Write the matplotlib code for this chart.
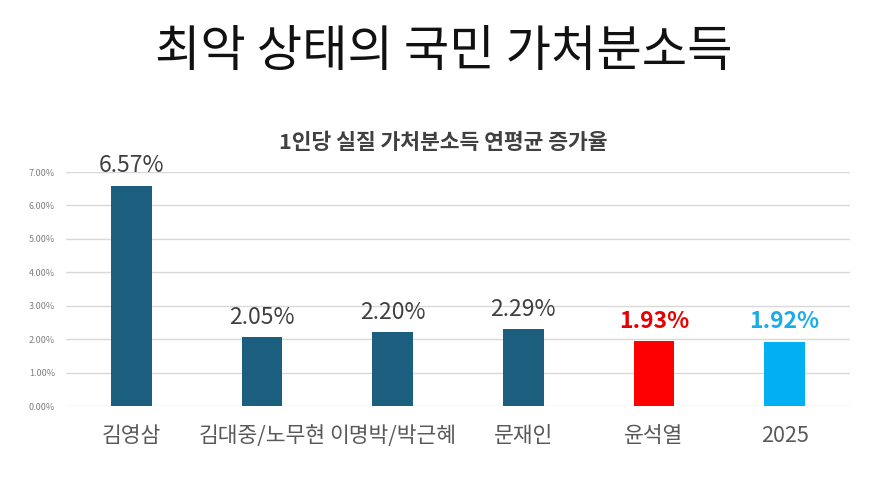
import matplotlib
matplotlib.use("Agg")
import matplotlib.pyplot as plt
from matplotlib.ticker import FuncFormatter

plt.rcParams['font.family'] = ['Noto Sans CJK KR', 'DejaVu Sans']

categories = ['김영삼', '김대중/노무현', '이명박/박근혜', '문재인', '윤석열', '2025']
values = [6.57, 2.05, 2.20, 2.29, 1.93, 1.92]
value_labels = ['6.57%', '2.05%', '2.20%', '2.29%', '1.93%', '1.92%']
yticks = [0, 1, 2, 3, 4, 5, 6, 7]

bar_colors = ['#1B5E7E', '#1B5E7E', '#1B5E7E', '#1B5E7E', '#FF0000', '#00B0F0']
label_colors = ['#404040', '#404040', '#404040', '#404040', '#E60000', '#1AACE8']
label_weights = ['normal', 'normal', 'normal', 'normal', 'bold', 'bold']

fig = plt.figure(figsize=(8.87, 4.96), dpi=100)
fig.patch.set_facecolor('white')
ax = fig.add_axes([66/887, 1-406/496, (850-66)/887, (406-172)/496])

x = list(range(len(categories)))
ax.bar(x, values, width=0.31, color=bar_colors, zorder=3)
ax.set_xlim(-0.5, len(categories)-0.5)
ax.set_ylim(0, 7)
ax.set_yticks(yticks)
ax.yaxis.set_major_formatter(FuncFormatter(lambda v, p: f'{v:.2f}%'))
ax.set_xticks(x)
ax.set_xticklabels(categories)
ax.grid(axis='y', color='#D9D9D9', linewidth=1, zorder=0)
for s in ax.spines.values():
    s.set_visible(False)
ax.tick_params(axis='x', length=0, pad=14, labelsize=15.5, labelcolor='#595959')
ax.tick_params(axis='y', length=0, pad=8, labelsize=6.5, labelcolor='#7F7F7F')

for xi, v, t, c, w in zip(x, values, value_labels, label_colors, label_weights):
    ax.annotate(t, (xi, v), xytext=(0, 10), textcoords='offset points',
                ha='center', va='baseline', fontsize=16.5, color=c, fontweight=w)

fig.text(0.5, 1-52/496, '최악 상태의 국민 가처분소득', ha='center', va='center',
         fontsize=35.5, color='#111111')
fig.text(0.5, 1-142/496, '1인당 실질 가처분소득 연평균 증가율', ha='center', va='center',
         fontsize=15.5, color='#404040', fontweight='bold')

fig.savefig('out.png', dpi=100, facecolor='white')
